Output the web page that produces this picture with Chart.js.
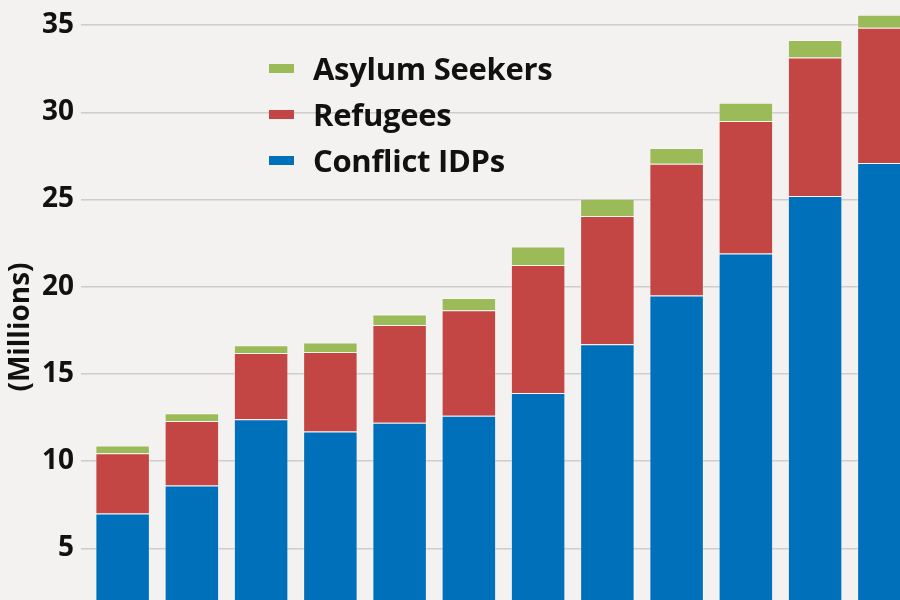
<!DOCTYPE html>
<html>
<head>
<meta charset="utf-8">
<script src="https://cdn.jsdelivr.net/npm/chart.js@4"></script>
<style>
  html, body { margin:0; padding:0; width:900px; height:600px; overflow:hidden; background:#f4f2f0; }
  #wrap { position:absolute; left:0; top:0; width:919px; height:654px; }
  #legend { position:absolute; left:269px; top:45px; font-family:"Open Sans", sans-serif; font-weight:700;
            font-size:31px; letter-spacing:-0.3px; color:#111; }
  .row { height:46px; line-height:46px; white-space:nowrap; display:flex; align-items:center; }
  .box { width:25px; height:9px; margin-right:19px; }
</style>
</head>
<body>
<div id="wrap"><canvas id="myChart"></canvas></div>
<div id="legend"></div>
<script>
// years are cut off in the picture, kept only as category keys
const years = ['2003','2004','2005','2006','2007','2008','2009','2010','2011','2012','2013','2014'];
const conflictIDPs = [7.0, 8.6, 12.4, 11.7, 12.2, 12.6, 13.9, 16.7, 19.5, 21.9, 25.2, 27.1];
const refugees = [3.45, 3.7, 3.8, 4.55, 5.6, 6.05, 7.35, 7.35, 7.55, 7.6, 7.95, 7.75];
const asylumSeekers = [0.45, 0.45, 0.45, 0.55, 0.6, 0.7, 1.05, 1.0, 0.9, 1.05, 1.0, 0.75];
const yTicks = [5, 10, 15, 20, 25, 30, 35];

const seriesNames = ['Conflict IDPs', 'Refugees', 'Asylum Seekers'];
const seriesColors = ['#0070bb', '#c34645', '#9bbb59'];
const seriesData = [conflictIDPs, refugees, asylumSeekers];

const datasets = seriesData.map((d, i) => ({
    label: seriesNames[i],
    data: d,
    backgroundColor: seriesColors[i],
    borderColor: 'rgba(255,255,255,0.3)',
    borderWidth: 1,
    barPercentage: 0.787,
    categoryPercentage: 1
}));

const ctx = document.getElementById('myChart').getContext('2d');
const myChart = new Chart(ctx, {
    type: 'bar',
    data: { labels: years, datasets: datasets },
    options: {
        responsive: true,
        maintainAspectRatio: false,
        animation: false,
        layout: { padding: 0 },
        plugins: { legend: { display: false }, tooltip: { enabled: false } },
        scales: {
            x: { stacked: true, display: false },
            y: {
                stacked: true,
                min: -1.06,
                max: 36.44,
                afterFit: s => { s.width = 88; s.paddingTop = 0; s.paddingBottom = 0; },
                afterBuildTicks: s => { s.ticks = yTicks.map(v => ({ value: v })); },
                border: { display: false },
                grid: { color: '#cfcdcb', lineWidth: 1.6, drawTicks: true, tickLength: 7 },
                ticks: {
                    padding: 7,
                    color: '#111',
                    font: { family: 'Open Sans', weight: '700', size: 28 }
                },
                title: {
                    display: true,
                    text: '(Millions)',
                    color: '#111',
                    padding: { top: 4, bottom: 0 },
                    font: { family: 'Open Sans', weight: '700', size: 28 }
                }
            }
        }
    }
});

// legend, top row first (reverse of stack order)
const legend = document.getElementById('legend');
datasets.slice().reverse().forEach(ds => {
    const row = document.createElement('div');
    row.className = 'row';
    row.innerHTML = `<span class="box" style="background:${ds.backgroundColor}"></span><span>${ds.label}</span>`;
    legend.appendChild(row);
});
</script>
</body>
</html>
